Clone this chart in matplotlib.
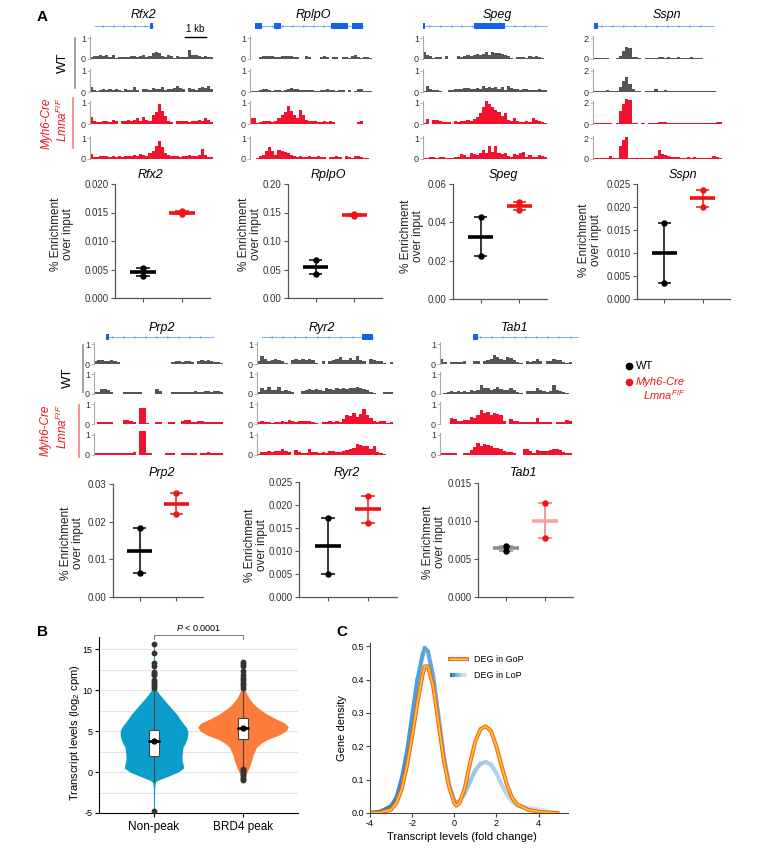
import numpy as np
import matplotlib
matplotlib.use("Agg")
import matplotlib.pyplot as plt
from matplotlib.patches import Rectangle
from matplotlib.collections import LineCollection
from matplotlib.ticker import FormatStrFormatter
from matplotlib.colors import to_rgb

plt.rcParams["font.family"] = ["Liberation Sans", "DejaVu Sans"]
plt.rcParams["mathtext.fontset"] = "custom"
plt.rcParams["mathtext.rm"] = "Liberation Sans"
plt.rcParams["mathtext.it"] = "Liberation Sans:italic"
plt.rcParams["mathtext.bf"] = "Liberation Sans:bold"
plt.rcParams["axes.unicode_minus"] = False

# ---------------------------------------------------------------------------
# Panel A: ChIP-seq coverage tracks (WT rep1, WT rep2, mutant rep1, mutant rep2)
# ---------------------------------------------------------------------------
RFX2_WT1 = [0.1,0.15,0.15,0.2,0.15,0.2,0.1,0.2,0.05,0.1,0.1,0.1,0.08,0.15,0.12,0.1,0.15,0.2,0.1,0.12,
            0.3,0.35,0.3,0.15,0.1,0.2,0.12,0.05,0.15,0.1,0.1,0.1,0.42,0.2,0.2,0.15,0.1,0.15,0.1,0.1]
RFX2_WT2 = [0.25,0.1,0.05,0.1,0.15,0.1,0.12,0.1,0.12,0.1,0.05,0.15,0.1,0.1,0.25,0.1,0,0.15,0.12,0.1,
            0.2,0.12,0.15,0.25,0.1,0.12,0.15,0.2,0.3,0.2,0.15,0,0.2,0.15,0.1,0.2,0.25,0.2,0.3,0.15]
RFX2_KO1 = [0.35,0.12,0.1,0.1,0.12,0.15,0.1,0.2,0.12,0,0.15,0.15,0.2,0.15,0.2,0.3,0.15,0.35,0.2,0.15,
            0.45,0.55,0.95,0.6,0.4,0.15,0.1,0,0.15,0.12,0.15,0.15,0.1,0.12,0.15,0.2,0.15,0.3,0.2,0.1]
RFX2_KO2 = [0.25,0.1,0.1,0.15,0.12,0.15,0.1,0.12,0.1,0.15,0.1,0.12,0.15,0.15,0.2,0.15,0.25,0.2,0.15,0.3,
            0.4,0.6,0.85,0.55,0.3,0.2,0.15,0.12,0.15,0.1,0.15,0.15,0.2,0.15,0.12,0.2,0.5,0.2,0.1,0.1]

RPLPO_WT1 = [0,0,0,0.08,0.12,0.15,0.15,0.12,0.1,0.1,0.12,0.12,0.15,0.15,0.1,0.08,0,0,0.15,0.1,
             0,0,0,0.1,0.12,0.1,0,0.1,0.08,0,0.1,0.1,0.05,0.15,0.2,0.1,0.05,0.08,0.1,0.05]
RPLPO_WT2 = [0.03,0.03,0.05,0.08,0.12,0.12,0.1,0.05,0.1,0.1,0.05,0.1,0.15,0.18,0.15,0.15,0.1,0.08,0.1,0.1,
             0.08,0.05,0.05,0.08,0.1,0.12,0.1,0.08,0.05,0.1,0.08,0,0.08,0,0.05,0.15,0.12,0.05,0.05,0.05]
RPLPO_KO1 = [0.3,0.28,0.05,0.1,0.12,0.15,0.12,0.1,0.15,0.3,0.45,0.55,0.85,0.6,0.45,0.3,0.65,0.45,0.2,0.15,
             0.12,0.15,0.1,0.1,0.12,0.1,0.15,0.1,0,0,0,0,0,0,0,0.1,0.12,0,0,0]
RPLPO_KO2 = [0,0,0.05,0.15,0.2,0.4,0.55,0.4,0.2,0.45,0.4,0.35,0.3,0.2,0.15,0.1,0.12,0.1,0.1,0.12,
             0.1,0.08,0.12,0.1,0.08,0,0.1,0.08,0.12,0.1,0,0.15,0.1,0.05,0.15,0.12,0.08,0.05,0.05,0]

SPEG_WT1 = [0.35,0.2,0.15,0.05,0.1,0.1,0,0.15,0,0,0,0.12,0.1,0.15,0.2,0.15,0.18,0.25,0.2,0.25,
            0.35,0.2,0.35,0.3,0.28,0.22,0.2,0.15,0.05,0,0.1,0.1,0.1,0.05,0.15,0.1,0.15,0.1,0.05,0]
SPEG_WT2 = [0.05,0.3,0.15,0.1,0.1,0.05,0,0,0.1,0.1,0.12,0.15,0.15,0.2,0.18,0.15,0.15,0.2,0.15,0.3,
            0.2,0.22,0.18,0.25,0.15,0.25,0.1,0.3,0.2,0.12,0.15,0.1,0.15,0.12,0.1,0.1,0.1,0.12,0.1,0.1]
SPEG_KO1 = [0.05,0.25,0,0.2,0.2,0.15,0.1,0.1,0.1,0,0.15,0.1,0.15,0.15,0.2,0.15,0.25,0.35,0.5,0.8,
            1.1,0.95,0.8,0.65,0.55,0.4,0.5,0.2,0.15,0.3,0.15,0.1,0.1,0.15,0.1,0.3,0.2,0.15,0.1,0.05]
SPEG_KO2 = [0.05,0.05,0.08,0.1,0.05,0.1,0.08,0.05,0.05,0.05,0.08,0.1,0.25,0.2,0.08,0.3,0.25,0.2,0.3,0.45,
            0.3,0.6,0.35,0.6,0.3,0.25,0.3,0.15,0.1,0.25,0.2,0.3,0.35,0.1,0.2,0.1,0.08,0.2,0.15,0.1]

SSPN_WT1 = [0.05,0.1,0.08,0.05,0.1,0,0,0.05,0.3,0.8,1.1,1.0,0.2,0.15,0.1,0,0.05,0.1,0.08,0.1,
            0.15,0.2,0.1,0.15,0.1,0.1,0.2,0.1,0.08,0.1,0.2,0.1,0.05,0.05,0,0,0,0,0,0]
SSPN_WT2 = [0.05,0.05,0.1,0.1,0.2,0.1,0.05,0.05,0.5,1.0,1.4,0.8,0.3,0.1,0.1,0,0.05,0.05,0.05,0.25,
            0.1,0.05,0.15,0.1,0.05,0.1,0.05,0.1,0.05,0.1,0.05,0.1,0.1,0.05,0.1,0.08,0.05,0.05,0,0]
SSPN_KO1 = [0.08,0.05,0.05,0.05,0.05,0.05,0,0.05,1.2,1.9,2.4,2.3,0.05,0.05,0,0.05,0,0.08,0.1,0.1,
            0.2,0.18,0.15,0.1,0.1,0.05,0.05,0.1,0.05,0.08,0.05,0.08,0.05,0.08,0.05,0.05,0.05,0.08,0.15,0.2]
SSPN_KO2 = [0.1,0.1,0.1,0.1,0.1,0.3,0.1,0.1,1.2,1.8,2.1,0.1,0.1,0.05,0.05,0.05,0.1,0.1,0.05,0.3,
            0.9,0.5,0.35,0.25,0.2,0.2,0.15,0.1,0.1,0.15,0.1,0.2,0.1,0.1,0.08,0.05,0.05,0.3,0.15,0.1]

PRP2_WT1 = [0.15,0.2,0.2,0.15,0.15,0.2,0.15,0.12,0,0,0,0,0,0,0,0,0,0,0,0,
            0,0,0,0,0.12,0.15,0.15,0.1,0.15,0.15,0.12,0,0.15,0.2,0.15,0.2,0.15,0.1,0.1,0.05]
PRP2_WT2 = [0.1,0.1,0.25,0.25,0.2,0.1,0,0,0,0.1,0.12,0.1,0.1,0.12,0.1,0,0,0,0,0.25,
            0.15,0,0,0,0.1,0.1,0.1,0.12,0.1,0.1,0.12,0.15,0.1,0.1,0.15,0.15,0.1,0.15,0.15,0.1]
PRP2_KO1 = [0,0.1,0.12,0.1,0.1,0.12,0,0,0,0.2,0.2,0.15,0.1,0,0.8,0.8,0.05,0,0,0.12,
            0.1,0,0,0.12,0.1,0,0,0.15,0.2,0.2,0.1,0.12,0.15,0.15,0.1,0.1,0.12,0.1,0.1,0.1]
PRP2_KO2 = [0.1,0.1,0.1,0.12,0.12,0.1,0.12,0.1,0.1,0.12,0.12,0.1,0.15,0,1.2,1.2,0.1,0.1,0,0,
            0,0,0.1,0.12,0.1,0,0,0.1,0.12,0.12,0.1,0.1,0,0.1,0.12,0.15,0.1,0.1,0.1,0.1]

RYR2_WT1 = [0.15,0.4,0.25,0.15,0.2,0.25,0.2,0.15,0.05,0,0.2,0.25,0.2,0.25,0.2,0.25,0.2,0.05,0,0.15,
            0,0.15,0.2,0.25,0.35,0.2,0.2,0.3,0.2,0.4,0.2,0.15,0,0.25,0.2,0.15,0.15,0.05,0,0.08]
RYR2_WT2 = [0.1,0.3,0.2,0.35,0.2,0.2,0.35,0.15,0.2,0.15,0.1,0,0,0.15,0.2,0.25,0.2,0.25,0.2,0.15,
            0.3,0.25,0.2,0.3,0.25,0.3,0.25,0.3,0.3,0.35,0.3,0.25,0.2,0.1,0.05,0,0,0.1,0.1,0.1]
RYR2_KO1 = [0.1,0.15,0.1,0.1,0.05,0.12,0.1,0.15,0.1,0.2,0.15,0.1,0.15,0.15,0.15,0.15,0.1,0.05,0,0.1,
            0.12,0.15,0.12,0.15,0.12,0.25,0.45,0.4,0.55,0.35,0.5,0.75,0.45,0.3,0.15,0.1,0.15,0.15,0.05,0.1]
RYR2_KO2 = [0.05,0.15,0.15,0.2,0.15,0.2,0.2,0.3,0.2,0.15,0,0.25,0.15,0.1,0.1,0.3,0.15,0.15,0.12,0.15,
            0.12,0.2,0.2,0.15,0.15,0.2,0.25,0.3,0.35,0.55,0.5,0.45,0.45,0.3,0.45,0.15,0.1,0.05,0,0]

TAB1_WT1 = [0.25,0.1,0,0.1,0.12,0.12,0.1,0.15,0,0,0.15,0.15,0,0.15,0.2,0.25,0.45,0.35,0.25,0.2,
            0.35,0.3,0.2,0.1,0.05,0,0.15,0.1,0.15,0.25,0.15,0,0.15,0.15,0.25,0.2,0.2,0.1,0.05,0.12]
TAB1_WT2 = [0,0.05,0.1,0.15,0.12,0.15,0.1,0.15,0.1,0.2,0.15,0.2,0.45,0.3,0.3,0.2,0.25,0.35,0.25,0.2,
            0.2,0.3,0.2,0.1,0.05,0,0.15,0.15,0.15,0.3,0.2,0.15,0.1,0.15,0.45,0.2,0.15,0.1,0.05,0]
TAB1_KO1 = [0,0,0,0.3,0.25,0.15,0.15,0.2,0.2,0.35,0.3,0.45,0.7,0.55,0.6,0.45,0.55,0.5,0.45,0.15,
            0,0.25,0.15,0.15,0.1,0.1,0.12,0.1,0.1,0.3,0.1,0.1,0.1,0.1,0,0.1,0.1,0.1,0.2,0.15]
TAB1_KO2 = [0.1,0.1,0.1,0.12,0.1,0,0,0.1,0.1,0.25,0.4,0.6,0.45,0.55,0.5,0.45,0.35,0.35,0.3,0.2,
            0.15,0.15,0.1,0,0,0.3,0.3,0.2,0.1,0.25,0.2,0.2,0.2,0.25,0.3,0.3,0.25,0.15,0.1,0.1]

# gene models: span, exons (fraction of track width), strand
RFX2_MODEL = ((0.04, 0.51), [(0.49, 0.51)], "<")
RPLPO_MODEL = ((0.04, 0.93), [(0.04, 0.10), (0.20, 0.25), (0.66, 0.80), (0.84, 0.93)], ">")
SPEG_MODEL = ((0.0, 1.0), [(0.0, 0.02), (0.41, 0.66)], ">")
SSPN_MODEL = ((0.01, 0.94), [(0.01, 0.04)], ">")
PRP2_MODEL = ((0.09, 0.92), [(0.09, 0.12)], ">")
RYR2_MODEL = ((0.04, 0.85), [(0.77, 0.85)], "<")
TAB1_MODEL = ((0.25, 1.045), [(0.25, 0.29)], ">")

# qPCR (% enrichment over input), two replicates per genotype
QPCR_GENES = ["Rfx2", "RplpO", "Speg", "Sspn", "Prp2", "Ryr2", "Tab1"]
WT_REP1 = [0.0053, 0.067, 0.0427, 0.0165, 0.0182, 0.0172, 0.0067]
WT_REP2 = [0.0038, 0.042, 0.0224, 0.0035, 0.0064, 0.0051, 0.0061]
KO_REP1 = [0.0152, 0.148, 0.0505, 0.0238, 0.0275, 0.0220, 0.0124]
KO_REP2 = [0.0147, 0.144, 0.0465, 0.0200, 0.0220, 0.0161, 0.0077]
QPCR_YMAX = [0.020, 0.20, 0.06, 0.025, 0.03, 0.025, 0.015]
QPCR_STEP = [0.005, 0.05, 0.02, 0.005, 0.01, 0.005, 0.005]
QPCR_FMT = ["%.3f", "%.2f", "%.2f", "%.3f", "%.2f", "%.3f", "%.3f"]

# ---------------------------------------------------------------------------
# Panel B: violin outline (half width, category units) + box stats + outliers
# ---------------------------------------------------------------------------
B_CATS = ["Non-peak", "BRD4 peak"]
NONPEAK_Y = [-4.8, -2.0, -1.2, -1.0, -0.5, 0.0, 0.5, 1.0, 1.5, 2.0, 2.5, 3.0, 3.5, 4.0, 4.5, 5.0,
             5.5, 6.0, 6.5, 7.0, 7.5, 8.0, 8.5, 9.0, 9.5, 10.0, 10.5, 11.0, 15.7]
NONPEAK_HW = [0.005, 0.007, 0.017, 0.045, 0.16, 0.27, 0.335, 0.325, 0.315, 0.315, 0.32, 0.325, 0.35,
              0.37, 0.38, 0.38, 0.36, 0.325, 0.29, 0.26, 0.22, 0.18, 0.14, 0.10, 0.062, 0.03, 0.011,
              0.006, 0.005]
BRD4_Y = [-1.0, -0.5, 0.0, 0.5, 1.0, 1.5, 2.0, 2.5, 3.0, 3.5, 4.0, 4.5, 5.0, 5.5, 6.0, 6.5, 7.0,
          7.5, 8.0, 8.5, 9.0, 9.5, 10.0, 10.5, 11.0, 13.4]
BRD4_HW = [0.006, 0.022, 0.045, 0.067, 0.084, 0.1, 0.11, 0.13, 0.15, 0.2, 0.28, 0.4, 0.48, 0.51,
           0.47, 0.37, 0.28, 0.21, 0.15, 0.105, 0.07, 0.045, 0.028, 0.012, 0.005, 0.004]
BOX_Q1 = [2.0, 4.1]
BOX_MED = [3.8, 5.4]
BOX_Q3 = [5.2, 6.6]
WHISK_LO = [-1.2, 0.6]
WHISK_HI = [10.1, 10.0]
NONPEAK_OUT = [-4.8, 10.3, 10.5, 10.8, 11.0, 11.3, 11.8, 12.0, 12.2, 13.0, 13.3, 14.6, 15.7]
BRD4_OUT = [-1.0, -0.8, -0.6, -0.4, -0.2, 0.0, 0.2, 0.4, 10.3, 10.6, 10.9, 11.2, 11.5, 11.9,
            12.4, 12.9, 13.2, 13.4]

# ---------------------------------------------------------------------------
# Panel C: gene density curves
# ---------------------------------------------------------------------------
C_X = [-4, -3.5, -3.0, -2.75, -2.5, -2.25, -2.0, -1.75, -1.5, -1.4, -1.25, -1.0, -0.75, -0.5,
       -0.25, 0.0, 0.1, 0.25, 0.5, 0.75, 1.0, 1.25, 1.5, 1.75, 2.0, 2.25, 2.5, 2.75, 3.0, 3.5,
       4.0, 4.5, 4.9]
GOP_Y = [0.0, 0.002, 0.01, 0.03, 0.07, 0.14, 0.23, 0.33, 0.415, 0.44, 0.44, 0.38, 0.27, 0.16,
         0.08, 0.03, 0.022, 0.03, 0.075, 0.15, 0.215, 0.252, 0.26, 0.245, 0.2, 0.14, 0.085,
         0.045, 0.025, 0.01, 0.004, 0.001, 0.0]
LOP_Y = [0.0, 0.004, 0.02, 0.045, 0.1, 0.18, 0.29, 0.4, 0.475, 0.495, 0.485, 0.41, 0.29, 0.17,
         0.085, 0.038, 0.03, 0.035, 0.06, 0.095, 0.128, 0.148, 0.153, 0.145, 0.12, 0.085, 0.055,
         0.035, 0.022, 0.015, 0.012, 0.005, 0.0]

# ---------------------------------------------------------------------------
# Figure
# ---------------------------------------------------------------------------
W, H = 764, 857
fig = plt.figure(figsize=(W / 100, H / 100), dpi=100)

WT_COL = "#555555"
KO_COL = "#f2112e"
RED = "#f01414"


def px_rect(l, t, r, b):
    return [l / W, 1 - b / H, (r - l) / W, (b - t) / H]


ov = fig.add_axes([0, 0, 1, 1])
ov.set_xlim(0, W)
ov.set_ylim(H, 0)
ov.axis("off")
ov.set_zorder(10)


def draw_track(x0, x1, zero, unit, vals, color, scale):
    ax = fig.add_axes(px_rect(x0, zero - 1.1 * unit, x1, zero))
    ax.patch.set_alpha(0)
    n = len(vals)
    ax.axhline(0, color="#cfcfcf", lw=0.8, zorder=0)
    bars = ax.bar(np.arange(n), vals, width=1.0, align="edge", color=color, linewidth=0)
    for b in bars:
        b.set_clip_on(False)
    ax.set_xlim(0, n)
    ax.set_ylim(0, 1.1 * scale)
    ax.set_xticks([])
    ax.set_yticks([0, scale])
    ax.set_yticklabels(["0", str(scale)], fontsize=6.5, color="#333333")
    ax.tick_params(axis="y", length=2, width=0.6, color="#aaaaaa", pad=1)
    for s in ["top", "right", "bottom"]:
        ax.spines[s].set_visible(False)
    ax.spines["left"].set_color("#aaaaaa")
    ax.spines["left"].set_linewidth(0.8)


def draw_model(x0, x1, yc, model):
    (s0, s1), exons, strand = model
    ax = fig.add_axes(px_rect(x0, yc - 5, x1, yc + 5))
    ax.axis("off")
    ax.set_xlim(0, 1)
    ax.set_ylim(-1, 1)
    ax.plot([s0, s1], [0, 0], color="#86b6f5", lw=0.8, clip_on=False, zorder=1)
    marks = np.arange(s0 + 0.06, s1 - 0.03, 0.085)
    ax.plot(marks, np.zeros_like(marks), ls="none", marker=strand, ms=2.0, mew=0,
            color="#6fa3f0", clip_on=False, zorder=2)
    for e0, e1 in exons:
        ax.add_patch(Rectangle((e0, -0.55), e1 - e0, 1.1, color="#1463e6", lw=0,
                               clip_on=False, zorder=3))


ROW_ZERO = [[59, 92, 124, 159], [364, 394, 424, 455]]
ROW_UNIT = [21, 20]
ROW_MODEL_Y = [26, 337]
TRACK_PANELS = [
    ("Rfx2", 90, 213, 0, [RFX2_WT1, RFX2_WT2, RFX2_KO1, RFX2_KO2], 1, RFX2_MODEL, 143),
    ("RplpO", 250, 372, 0, [RPLPO_WT1, RPLPO_WT2, RPLPO_KO1, RPLPO_KO2], 1, RPLPO_MODEL, 313),
    ("Speg", 423, 547, 0, [SPEG_WT1, SPEG_WT2, SPEG_KO1, SPEG_KO2], 1, SPEG_MODEL, 497),
    ("Sspn", 593, 722, 0, [SSPN_WT1, SSPN_WT2, SSPN_KO1, SSPN_KO2], 2, SSPN_MODEL, 667),
    ("Prp2", 94, 223, 1, [PRP2_WT1, PRP2_WT2, PRP2_KO1, PRP2_KO2], 1, PRP2_MODEL, 162),
    ("Ryr2", 257, 393, 1, [RYR2_WT1, RYR2_WT2, RYR2_KO1, RYR2_KO2], 1, RYR2_MODEL, 322),
    ("Tab1", 440, 572, 1, [TAB1_WT1, TAB1_WT2, TAB1_KO1, TAB1_KO2], 1, TAB1_MODEL, 515),
]
TITLE_Y = [15, 328]

for name, x0, x1, row, tracks, scale, model, tx in TRACK_PANELS:
    for k, vals in enumerate(tracks):
        draw_track(x0, x1, ROW_ZERO[row][k], ROW_UNIT[row], vals,
                   WT_COL if k < 2 else KO_COL, scale)
    draw_model(x0, x1, ROW_MODEL_Y[row], model)
    ov.text(tx, TITLE_Y[row], name, fontsize=9, style="italic", ha="center", va="center")

# 1 kb scale bar
ov.plot([185, 206], [37, 37], color="black", lw=1)
ov.text(195.5, 34, "1 kb", fontsize=7, ha="center", va="bottom")

# genotype labels next to tracks
for gx, rx, wt_y, red_y, tx_wt, tx_m1, tx_m2, ty_wt, ty_red in [
        (75, 73, (38, 88), (98, 148), 63, 47, 62, 63, 123),
        (83, 79, (345, 392), (405, 457), 68, 46, 62, 378, 430)]:
    ov.plot([gx, gx], wt_y, color="#999999", lw=1.3)
    ov.plot([rx, rx], red_y, color="#f08a8a", lw=1.3)
    ov.text(tx_wt, ty_wt, "WT", rotation=90, fontsize=9.5, ha="center", va="center")
    ov.text(tx_m1, ty_red, "Myh6-Cre", rotation=90, fontsize=8.5, style="italic",
            color=RED, ha="center", va="center")
    ov.text(tx_m2, ty_red - 3, r"$\mathit{Lmna}^{\mathit{F/F}}$", rotation=90, fontsize=8.5,
            color=RED, ha="center", va="center")

# legend for qPCR
ov.plot([629], [366], "o", color="black", ms=4.5)
ov.text(636, 366, "WT", fontsize=8, va="center")
ov.plot([629], [382], "o", color=RED, ms=4.5)
ov.text(636, 382, "Myh6-Cre", fontsize=8, style="italic", color=RED, va="center")
ov.text(643, 395, r"$\mathit{Lmna}^{\mathit{F/F}}$", fontsize=8, color=RED, va="center")

# qPCR panels
QPCR_RECTS = [(115, 184, 210, 298), (288, 184, 382, 298), (453, 184, 547, 299),
              (637, 184, 730, 299), (113, 484, 203, 597), (299, 482, 397, 597),
              (478, 483, 573, 597)]
QPCR_TITLE = [(150, 175), (328, 175), (503, 175), (683, 175), (162, 473), (347, 473), (524, 473)]
QPCR_YLAB = [(62, 234), (250, 234), (412, 236), (590, 240), (72, 543), (256, 545), (434, 542)]
FADED = {"Tab1"}

for i, gene in enumerate(QPCR_GENES):
    ax = fig.add_axes(px_rect(*QPCR_RECTS[i]))
    ax.patch.set_alpha(0)
    groups = [(1, [WT_REP1[i], WT_REP2[i]], "black", "black", "black"),
              (2, [KO_REP1[i], KO_REP2[i]], RED, RED, RED)]
    if gene in FADED:
        groups = [(1, [WT_REP1[i], WT_REP2[i]], "black", "#8c8c8c", "#8c8c8c"),
                  (2, [KO_REP1[i], KO_REP2[i]], RED, "#f07878", "#f5a5a5")]
    for xpos, vals, dot_c, line_c, mean_c in groups:
        lo, hi = min(vals), max(vals)
        ax.vlines(xpos, lo, hi, color=line_c, lw=1.1, zorder=2)
        ax.hlines([lo, hi], xpos - 0.17, xpos + 0.17, color=line_c, lw=1.1, zorder=2)
        ax.hlines(np.mean(vals), xpos - 0.33, xpos + 0.33, color=mean_c, lw=2.6, zorder=3)
        ax.plot([xpos] * len(vals), vals, "o", color=dot_c, ms=3.6, zorder=4, clip_on=False)
    ax.set_xlim(0.28, 2.72)
    ax.set_ylim(0, QPCR_YMAX[i])
    ax.set_yticks(np.arange(0, QPCR_YMAX[i] + QPCR_STEP[i] / 2, QPCR_STEP[i]))
    ax.yaxis.set_major_formatter(FormatStrFormatter(QPCR_FMT[i]))
    ax.set_xticks([1, 2])
    ax.set_xticklabels([])
    ax.tick_params(labelsize=7, labelcolor="#333333", color="#555555", length=3, width=0.8, pad=1.5)
    for s in ["top", "right"]:
        ax.spines[s].set_visible(False)
    for s in ["left", "bottom"]:
        ax.spines[s].set_color("#555555")
        ax.spines[s].set_linewidth(0.9)
    ov.text(*QPCR_TITLE[i], gene, fontsize=9, style="italic", ha="center", va="center")
    ov.text(*QPCR_YLAB[i], "% Enrichment\nover input", rotation=90, fontsize=8.5,
            ha="center", va="center", linespacing=1.05, color="#222222")

# ---------------------------------------------------------------------------
# Panel B
# ---------------------------------------------------------------------------
axb = fig.add_axes(px_rect(99, 637, 298, 813))
axb.set_xlim(0.382, 2.618)
axb.set_ylim(-5, 16.5)
axb.set_yticks([-5, 0, 5, 10, 15])
axb.set_yticklabels(["-5", "0", "5", "10", "15"])
axb.set_yticks([-2.5, 2.5, 7.5, 12.5], minor=True)
axb.grid(axis="y", which="both", color="#e3e3e3", lw=0.8)
axb.set_axisbelow(True)
axb.tick_params(axis="y", which="minor", length=0)
axb.tick_params(axis="y", labelsize=6.5, length=3, width=0.8, pad=1.5)
axb.tick_params(axis="x", labelsize=8.5, length=3, width=0.8, pad=3)
axb.set_xticks([1, 2])
axb.set_xticklabels(B_CATS)
for s in ["top", "right"]:
    axb.spines[s].set_visible(False)

violins = [(NONPEAK_Y, NONPEAK_HW, "#0b9dcb", NONPEAK_OUT), (BRD4_Y, BRD4_HW, "#fb7c3b", BRD4_OUT)]
for i, (ys, hw, col, outs) in enumerate(violins):
    pos = i + 1
    ys = np.array(ys)
    hw = np.array(hw)
    axb.fill_betweenx(ys, pos - hw, pos + hw, color=col, lw=0, zorder=2)
    axb.vlines(pos, WHISK_LO[i], WHISK_HI[i], color="#444444", lw=0.8, zorder=3)
    axb.add_patch(Rectangle((pos - 0.053, BOX_Q1[i]), 0.106, BOX_Q3[i] - BOX_Q1[i],
                            fc="white", ec="#444444", lw=0.8, zorder=4))
    axb.plot([pos - 0.055, pos + 0.055], [BOX_MED[i]] * 2, color="black", lw=2,
             solid_capstyle="round", zorder=5)
    axb.plot([pos], [BOX_MED[i]], "o", color="black", ms=3.5, zorder=5)
    axb.plot([pos] * len(outs), outs, "o", color="#333333", ms=3.2, zorder=4, clip_on=False)

axb.plot([1, 1, 2, 2], [16.2, 16.75, 16.75, 16.2], color="#777777", lw=0.7, clip_on=False)
axb.text(1.5, 16.95, r"$\mathit{P}$ < 0.0001", fontsize=6.5, ha="center", va="bottom")
ov.text(75, 733, r"Transcript levels (log$_2$ cpm)", rotation=90, fontsize=8,
        ha="center", va="center")

# ---------------------------------------------------------------------------
# Panel C
# ---------------------------------------------------------------------------
axc = fig.add_axes(px_rect(370, 643, 568, 813))
axc.patch.set_alpha(0)
axc.set_xlim(-4, 5.4)
axc.set_ylim(0, 0.51)
axc.set_xticks([-4, -2, 0, 2, 4])
axc.set_yticks([0, 0.1, 0.2, 0.3, 0.4, 0.5])
axc.yaxis.set_major_formatter(FormatStrFormatter("%.1f"))
axc.tick_params(labelsize=6.5, length=3, width=0.8, color="#444444", pad=1.5)
for s in ["top", "right"]:
    axc.spines[s].set_visible(False)
for s in ["left", "bottom"]:
    axc.spines[s].set_color("#444444")


def blue_ramp(xv):
    stops_x = [-4.0, -1.4, 1.5, 4.9]
    stops_c = [to_rgb("#1f6fc0"), to_rgb("#5aa6dd"), to_rgb("#a8cdec"), to_rgb("#dfeaf4")]
    return [tuple(np.interp(x, stops_x, [c[j] for c in stops_c]) for j in range(3)) for x in xv]


cx = np.array(C_X)
lop = np.array(LOP_Y)
pts = np.column_stack([cx, lop]).reshape(-1, 1, 2)
segs = np.concatenate([pts[:-1], pts[1:]], axis=1)
lc = LineCollection(segs, colors=blue_ramp((cx[:-1] + cx[1:]) / 2), lw=3.0, capstyle="round",
                    joinstyle="round")
axc.add_collection(lc)
axc.plot(C_X, GOP_Y, color="#f2532b", lw=2.8, solid_joinstyle="round")
axc.plot(C_X, GOP_Y, color="#f99b1d", lw=1.7, solid_joinstyle="round")
axc.plot(C_X, GOP_Y, color="#ffd21a", lw=0.7, solid_joinstyle="round")

# legend for C
ov.plot([450, 467], [659, 659], color="#f2532b", lw=2.8)
ov.plot([450, 467], [659, 659], color="#f99b1d", lw=1.7)
ov.plot([450, 467], [659, 659], color="#ffd21a", lw=0.7)
lx = np.linspace(450, 467, 8)
lpts = np.column_stack([lx, np.full_like(lx, 675)]).reshape(-1, 1, 2)
ov.add_collection(LineCollection(np.concatenate([lpts[:-1], lpts[1:]], axis=1),
                                 colors=blue_ramp(np.linspace(-4, 4.9, 7)), lw=3.0))
ov.text(474, 659, "DEG in GoP", fontsize=6.5, va="center")
ov.text(474, 675, "DEG in LoP", fontsize=6.5, va="center")

ov.text(342, 728, "Gene density", rotation=90, fontsize=8, ha="center", va="center")
ov.text(462, 837, "Transcript levels (fold change)", fontsize=8, ha="center", va="center")

# panel letters
ov.text(42, 17, "A", fontsize=11, fontweight="bold", ha="center", va="center")
ov.text(43, 632, "B", fontsize=11, fontweight="bold", ha="center", va="center")
ov.text(342, 632, "C", fontsize=11, fontweight="bold", ha="center", va="center")

fig.savefig("out.png", dpi=100)
